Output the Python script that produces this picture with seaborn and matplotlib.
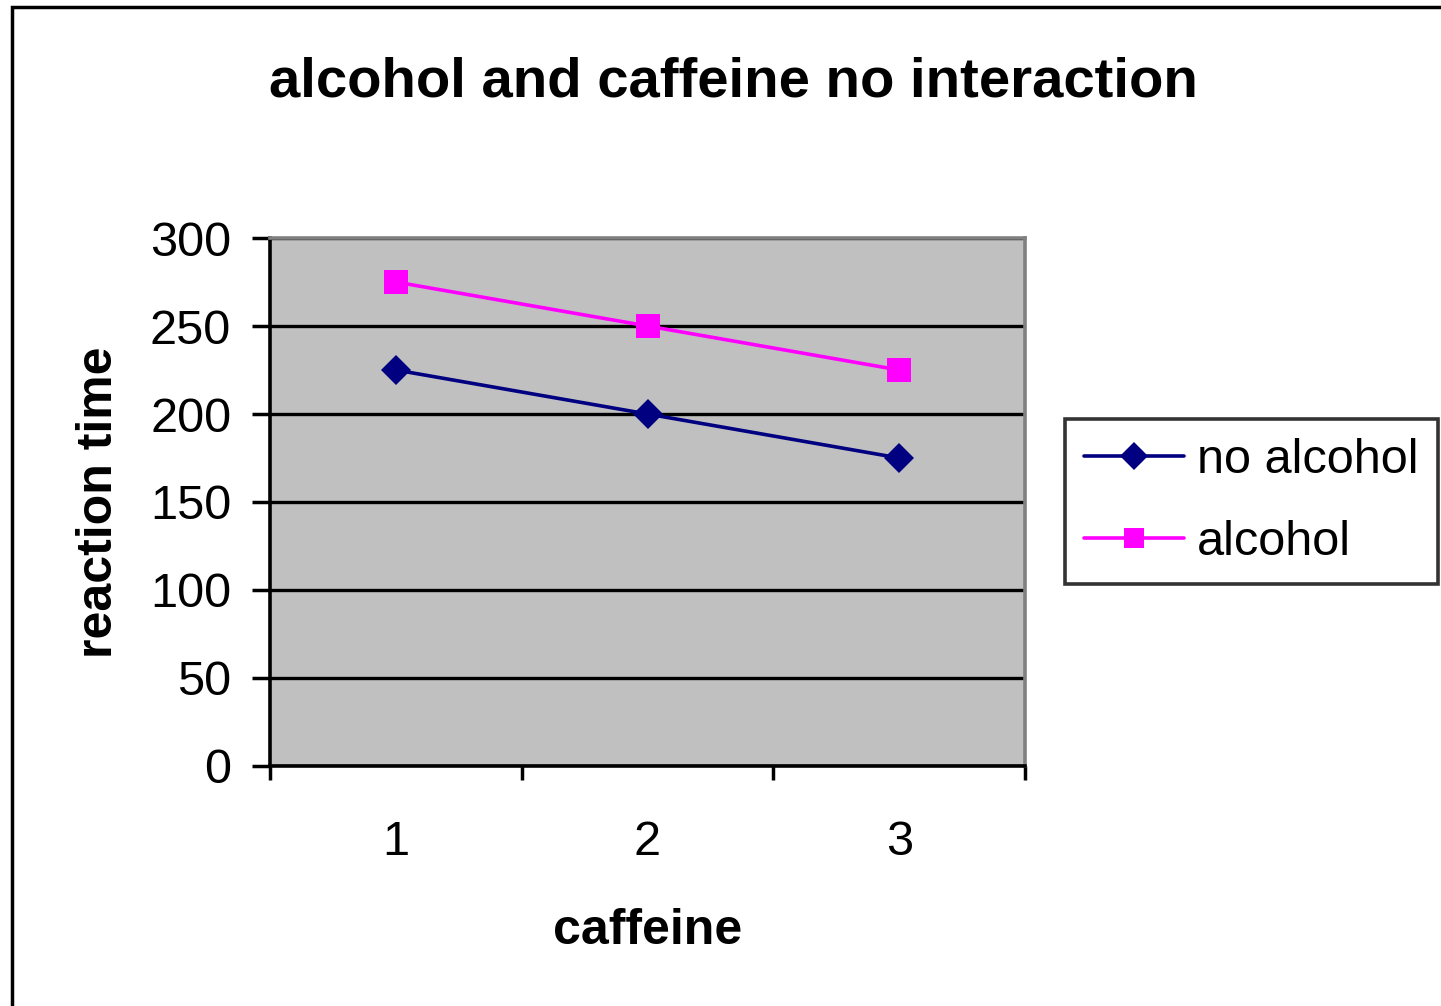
import numpy as np
import pandas as pd
import seaborn as sns
import matplotlib.pyplot as plt
from matplotlib.patches import Rectangle

# data
caffeine = ['1', '2', '3']
no_alcohol = [225, 200, 175]
alcohol = [275, 250, 225]

df = pd.DataFrame({
    'caffeine': caffeine * 2,
    'reaction time': no_alcohol + alcohol,
    'group': ['no alcohol'] * len(caffeine) + ['alcohol'] * len(caffeine),
})
df['pos'] = list(range(len(caffeine))) * 2

navy = '#000080'
magenta = '#FF00FF'

sns.set_style('white')
plt.rcParams['font.family'] = ['Liberation Sans', 'DejaVu Sans']
plt.rcParams['text.color'] = 'black'
plt.rcParams['axes.labelcolor'] = 'black'
plt.rcParams['xtick.color'] = 'black'
plt.rcParams['ytick.color'] = 'black'

fig = plt.figure(figsize=(14.41, 10.06), dpi=100)
ax = fig.add_axes([0.1874, 0.2386, 0.5239, 0.5248])
ax.set_facecolor('#C0C0C0')

sns.lineplot(data=df, x='pos', y='reaction time', hue='group', style='group',
             palette={'no alcohol': navy, 'alcohol': magenta},
             markers={'no alcohol': 'D', 'alcohol': 's'}, dashes=False,
             lw=2.6, markeredgewidth=0, ax=ax, legend=False)
for line, ms in zip(ax.lines, [15, 17]):
    line.set_markersize(ms)

# axes limits and ticks (category axis between tick marks)
ax.set_xlim(-0.5, 2.5)
ax.set_ylim(0, 300)
ax.set_yticks(np.arange(0, 301, 50))
ax.set_xticks([-0.5, 0.5, 1.5, 2.5])
ax.set_xticklabels([])
ax.set_xticks(range(len(caffeine)), minor=True)
ax.set_xticklabels(caffeine, minor=True)
ax.tick_params(axis='x', which='major', direction='out', length=10, width=2.5, color='black', bottom=True)
ax.tick_params(axis='x', which='minor', length=0, pad=39, labelsize=35)
ax.tick_params(axis='y', direction='out', length=13, width=2.5, color='black', left=True, labelsize=35, pad=15)

# gridlines
ax.yaxis.grid(True, color='black', lw=2.4)
ax.set_axisbelow(True)

for side in ['left', 'bottom']:
    ax.spines[side].set_color('black')
    ax.spines[side].set_linewidth(2.6)
for side in ['top', 'right']:
    ax.spines[side].set_visible(True)
    ax.spines[side].set_color('#808080')
    ax.spines[side].set_linewidth(2.6)

ax.set_xlabel('caffeine', fontsize=36, fontweight='bold', labelpad=31)
ax.set_ylabel('reaction time', fontsize=36, fontweight='bold', labelpad=20)

fig.text(0.509, 0.918, 'alcohol and caffeine no interaction', fontsize=40.5,
         fontweight='bold', ha='center', va='center')

# legend
handles = [plt.Line2D([], [], color=navy, lw=2.6, marker='D', markersize=14, markeredgewidth=0),
           plt.Line2D([], [], color=magenta, lw=2.6, marker='s', markersize=15, markeredgewidth=0)]
leg = fig.legend(handles, ['no alcohol', 'alcohol'], loc='upper left',
                 bbox_to_anchor=(1065 / 1441, 1 - 419 / 1006), fontsize=35,
                 frameon=True, fancybox=False, handlelength=2.05, borderpad=0.4,
                 labelspacing=0.75, handletextpad=0.27, borderaxespad=0)
leg.get_frame().set_edgecolor('black')
leg.get_frame().set_linewidth(2.6)

# outer chart border
fig.patches.append(Rectangle((12 / 1441, -0.05), 1.2, 1 - 7 / 1006 + 0.05,
                             transform=fig.transFigure, fill=False,
                             edgecolor='black', lw=2.5))

fig.savefig('out.png', dpi=100)
